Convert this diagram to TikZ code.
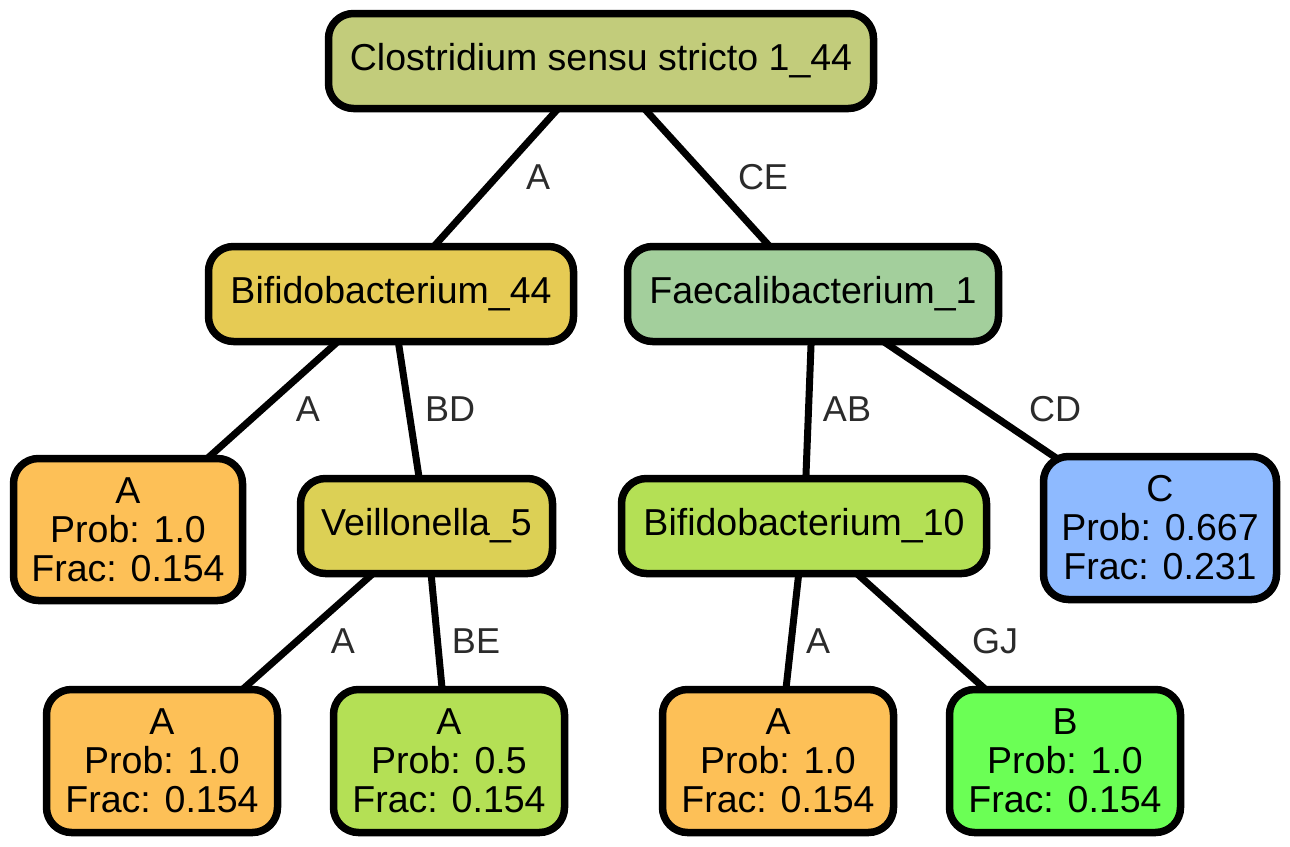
\documentclass[tikz,border=0pt]{standalone}
\usepackage{fontspec}
\setmainfont{Liberation Sans}
\usetikzlibrary{backgrounds}
\definecolor{cRoot}{HTML}{C2CC7B}
\definecolor{cBA}{HTML}{E6CB54}
\definecolor{cFae}{HTML}{A3CF9C}
\definecolor{cOr}{HTML}{FDC057}
\definecolor{cVei}{HTML}{DCD055}
\definecolor{cLime}{HTML}{B4E055}
\definecolor{cBlue}{HTML}{8EBAFF}
\definecolor{cGreen}{HTML}{6BFF55}
\definecolor{cLab}{HTML}{2B2B2B}
\tikzset{
  box/.style={draw=black, line width=7.5pt, rounded corners=25pt, inner sep=0pt,
    font=\fontsize{37.5}{39}\selectfont, text=black, align=center,
    minimum height=95pt},
  leaf/.style={box, minimum width=231pt, minimum height=143pt},
  elabel/.style={font=\fontsize{36}{39}\selectfont, text=cLab, inner sep=0pt},
  edge/.style={draw=black, line width=7pt}
}
\begin{document}
\begin{tikzpicture}[x=1pt,y=-1pt]
\useasboundingbox (0,0) rectangle (1290,846);
\node[box, fill=cRoot, minimum width=545pt] (root) at (601,61) {Clostridium sensu stricto 1\_44};
\node[box, fill=cBA, minimum width=365pt] (b44) at (391,294) {Bifidobacterium\_44};
\node[box, fill=cFae, minimum width=371pt] (fae) at (813,294) {Faecalibacterium\_1};
\node[leaf, fill=cOr, minimum width=229pt, minimum height=142pt] (la) at (128,529.5) {A\\Prob: 1.0\\Frac: 0.154};
\node[box, fill=cVei, minimum width=252pt] (veil) at (426.5,526) {Veillonella\_5};
\node[box, fill=cLime, minimum width=365pt] (b10) at (804,526) {Bifidobacterium\_10};
\node[leaf, fill=cBlue, minimum width=233pt] (lc) at (1160,528) {C\\Prob: 0.667\\Frac: 0.231};
\node[leaf, fill=cOr] (laa) at (162,761) {A\\Prob: 1.0\\Frac: 0.154};
\node[leaf, fill=cLime] (la5) at (449,761) {A\\Prob: 0.5\\Frac: 0.154};
\node[leaf, fill=cOr] (lab) at (778,761) {A\\Prob: 1.0\\Frac: 0.154};
\node[leaf, fill=cGreen] (lb) at (1065,761) {B\\Prob: 1.0\\Frac: 0.154};
\begin{pgfonlayer}{background}
\draw[edge] (root.center) -- (b44.center);
\draw[edge] (root.center) -- (fae.center);
\draw[edge] (b44.center) -- (la.center);
\draw[edge] (b44.center) -- (veil.center);
\draw[edge] (fae.center) -- (b10.center);
\draw[edge] (fae.center) -- (lc.center);
\draw[edge] (veil.center) -- (laa.center);
\draw[edge] (veil.center) -- (la5.center);
\draw[edge] (b10.center) -- (lab.center);
\draw[edge] (b10.center) -- (lb.center);
\end{pgfonlayer}
\node[elabel] (e1) at (538,177) {A};
\node[elabel] (e2) at (763,177) {CE};
\node[elabel] (e3) at (308,409) {A};
\node[elabel] (e4) at (450,409) {BD};
\node[elabel] (e5) at (847,409) {AB};
\node[elabel] (e6) at (1055,409) {CD};
\node[elabel] (e7) at (343,641) {A};
\node[elabel] (e8) at (476,641) {BE};
\node[elabel] (e9) at (818,641) {A};
\node[elabel] (e10) at (995,641) {GJ};
\end{tikzpicture}
\end{document}
